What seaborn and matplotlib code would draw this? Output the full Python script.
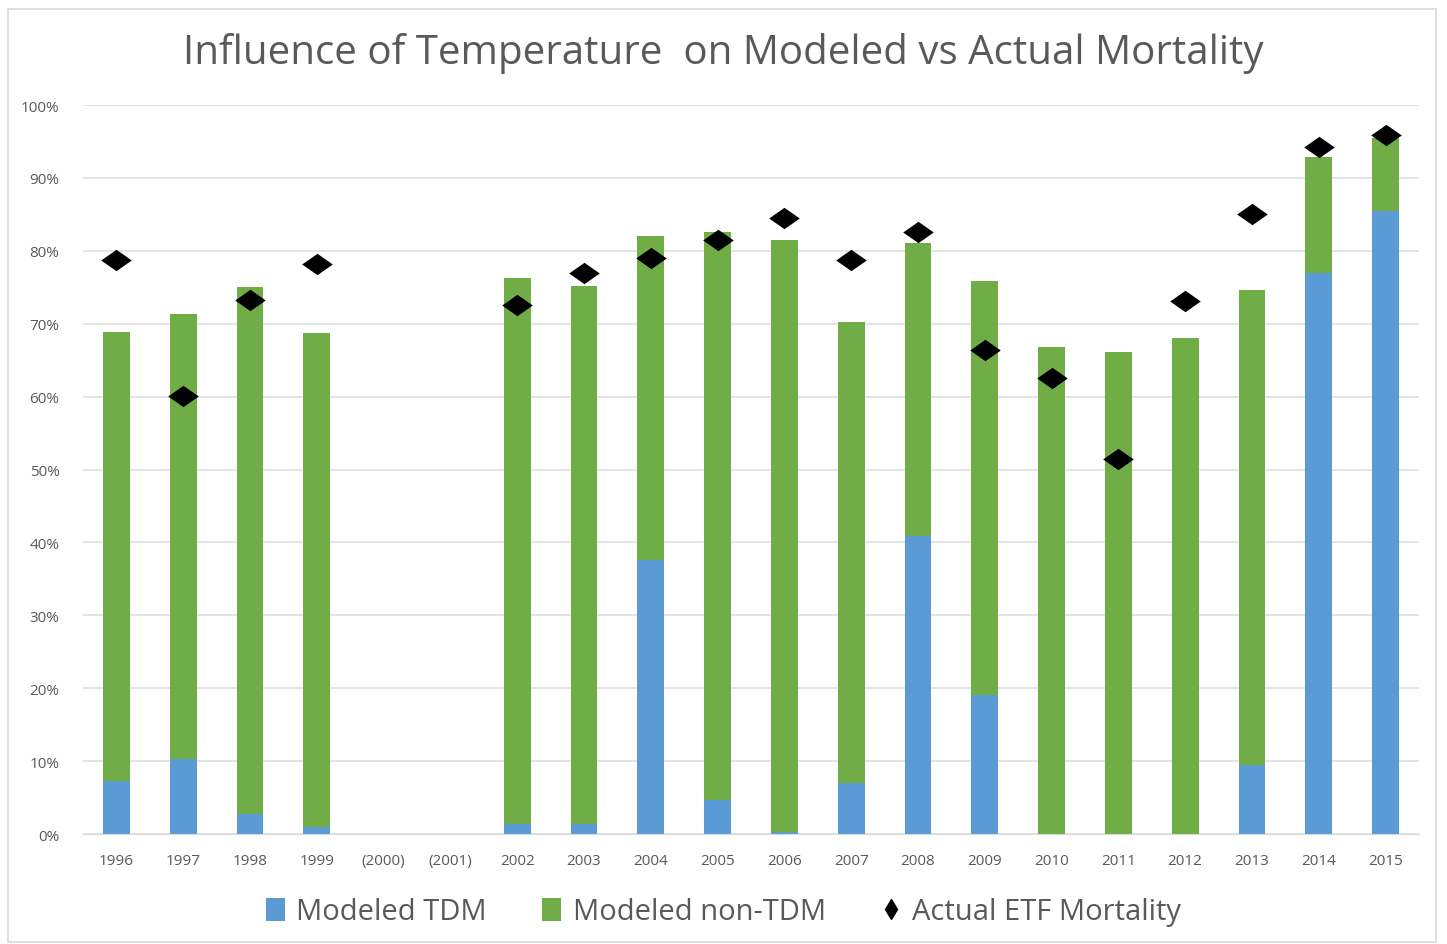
import numpy as np
import pandas as pd
import seaborn as sns
import matplotlib.pyplot as plt
from matplotlib.patches import Patch, Rectangle
from matplotlib.lines import Line2D
from matplotlib.ticker import PercentFormatter

# values (percent), no data for 2000 / 2001
years = ["1996", "1997", "1998", "1999", "(2000)", "(2001)", "2002", "2003", "2004", "2005",
         "2006", "2007", "2008", "2009", "2010", "2011", "2012", "2013", "2014", "2015"]
modeled_tdm = [7.3, 10.3, 2.7, 0.9, np.nan, np.nan, 1.4, 1.4, 37.6, 4.7,
               0.3, 7.0, 40.9, 19.0, 0.0, 0.0, 0.0, 9.5, 77.0, 85.4]
modeled_total = [68.9, 71.3, 75.0, 68.7, np.nan, np.nan, 76.3, 75.2, 82.0, 82.6,
                 81.5, 70.2, 81.1, 75.9, 66.8, 66.1, 68.1, 74.6, 92.9, 95.5]
actual_etf = [78.7, 60.1, 73.2, 78.2, np.nan, np.nan, 72.5, 77.0, 79.0, 81.5,
              84.5, 78.8, 82.6, 66.4, 62.5, 51.4, 73.1, 85.0, 94.2, 95.9]

blue = "#5B9BD5"
green = "#70AD47"
txt = "#595959"

df = pd.DataFrame({"year": years, "tdm": modeled_tdm,
                   "total": modeled_total, "actual": actual_etf})

sns.set_style("white")
plt.rcParams["font.family"] = ["Open Sans", "DejaVu Sans"]

fig = plt.figure(figsize=(14.47, 9.45), dpi=100)
ax = fig.add_axes([0.0574, 0.1164, 0.9232, 0.7714])

# stacked bars: total (green) first, then TDM part (blue) on top of it
sns.barplot(data=df, x="year", y="total", order=years, color=green, width=0.4,
            saturation=1, errorbar=None, linewidth=0, ax=ax, zorder=2)
sns.barplot(data=df, x="year", y="tdm", order=years, color=blue, width=0.4,
            saturation=1, errorbar=None, linewidth=0, ax=ax, zorder=2)

diamond = [(-1, 0), (0, 0.7), (1, 0), (0, -0.7), (-1, 0)]
sns.stripplot(data=df, x="year", y="actual", order=years, jitter=False,
              marker=diamond, color="black", size=22, linewidth=0, ax=ax, zorder=4)

ax.set_ylim(0, 100)
ax.set_xlim(-0.5, len(years) - 0.5)
ax.set_yticks(np.arange(0, 101, 10))
ax.yaxis.set_major_formatter(PercentFormatter(decimals=0))
ax.grid(axis="y", color="#DCDCDC", linewidth=1.1, zorder=0)
ax.set_axisbelow(True)
for s in ["top", "right", "left"]:
    ax.spines[s].set_visible(False)
ax.spines["bottom"].set_color("#D9D9D9")
ax.tick_params(axis="both", length=0, labelsize=11, labelcolor=txt)
ax.tick_params(axis="x", pad=14)
ax.tick_params(axis="y", pad=17)
ax.set_xlabel("")
ax.set_ylabel("")

fig.text(0.5, 0.943, "Influence of Temperature  on Modeled vs Actual Mortality",
         ha="center", va="center", fontsize=29, color=txt)

handles = [Patch(facecolor=blue, edgecolor="none"),
           Patch(facecolor=green, edgecolor="none"),
           Line2D([], [], marker="d", color="black", linestyle="none", markersize=10)]
fig.legend(handles, ["Modeled TDM", "Modeled non-TDM", "Actual ETF Mortality"],
           loc="center", bbox_to_anchor=(0.5, 0.034), ncol=3, frameon=False,
           fontsize=21, labelcolor=txt, handlelength=0.65, handleheight=0.85,
           handletextpad=0.4, columnspacing=1.9)

# light border around the whole chart area
fig.patches.append(Rectangle((0.0055, 0.002), 0.987, 0.987, transform=fig.transFigure,
                             fill=False, edgecolor="#D9D9D9", linewidth=1.2))

fig.savefig("out.png", dpi=100)
